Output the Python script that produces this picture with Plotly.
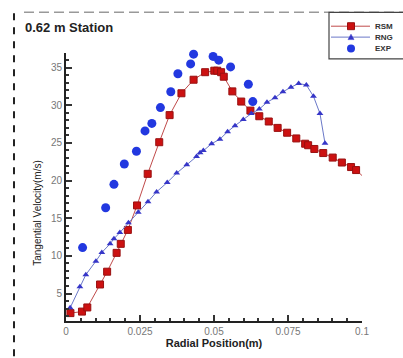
import plotly.graph_objects as go

# ---------------- data ----------------
rsm_x = [0.0015, 0.0054, 0.0072, 0.0115, 0.0139, 0.0171, 0.0185, 0.0209, 0.0240,
         0.0276, 0.0315, 0.0350, 0.0390, 0.0431, 0.0470, 0.0501, 0.0511, 0.0524,
         0.0533, 0.0562, 0.0592, 0.0623, 0.0653, 0.0685, 0.0715, 0.0747, 0.0778,
         0.0808, 0.0818, 0.0839, 0.0869, 0.0901, 0.0932, 0.0963, 0.0980, 0.1002]
rsm_y = [2.4, 2.6, 3.15, 6.2, 7.9, 10.4, 11.6, 13.45, 16.7,
         20.9, 25.1, 28.7, 31.6, 33.4, 34.4, 34.6, 34.6, 34.4,
         33.8, 31.85, 30.5, 29.3, 28.55, 27.85, 27.0, 26.36, 25.6,
         24.9, 24.7, 24.2, 23.66, 23.06, 22.4, 21.8, 21.4, 20.6]

rng_x = [0.0014, 0.0047, 0.0067, 0.0101, 0.0121, 0.0149, 0.0162, 0.0182, 0.0211,
         0.0244, 0.0277, 0.0306, 0.0342, 0.0374, 0.0408, 0.0441, 0.0453, 0.0464,
         0.0492, 0.0520, 0.0546, 0.0571, 0.0599, 0.0626, 0.0653, 0.0679, 0.0706,
         0.0733, 0.0760, 0.0786, 0.0812, 0.0836, 0.0858, 0.0875]
rng_y = [3.1, 5.9, 7.5, 9.3, 10.45, 11.6, 12.27, 13.1, 14.4,
         15.8, 17.2, 18.5, 19.75, 21.0, 22.1, 23.2, 23.7, 24.0,
         24.9, 25.5, 26.5, 27.3, 28.1, 28.9, 29.5, 30.4, 31.0,
         31.8, 32.4, 32.9, 32.7, 31.2, 28.9, 24.95]

exp_x = [0.0056, 0.0134, 0.0162, 0.0197, 0.0238, 0.0267, 0.0290, 0.0319, 0.0354,
         0.0378, 0.0421, 0.0431, 0.0467, 0.0497, 0.0516, 0.0556, 0.0616, 0.0631]
exp_y = [11.1, 16.4, 19.5, 22.2, 23.9, 26.6, 27.6, 29.7, 31.8,
         34.2, 35.5, 36.8, 37.0, 36.5, 36.0, 35.1, 32.8, 30.5]

series_names = ["RSM", "RNG", "EXP"]
x_ticks = [0, 0.025, 0.05, 0.075, 0.1]
x_tick_text = ["0", "0.025", "0.05", "0.075", "0.1"]
y_ticks = [5, 10, 15, 20, 25, 30, 35]

title_text = "0.62 m Station"
x_title = "Radial Position(m)"
y_title = "Tangential Velocity(m/s)"

# ---------------- styles ----------------
W, H = 403, 358
L, R, T, B = 66, 41, 53, 35
PW, PH = W - L - R, H - T - B

RED = "#cc1111"
RED_LINE = "#c04a4a"
TRI = "#3636c8"
TRI_LINE = "#6a78c8"
CIRC = "#2238e0"


def px(xp):
    return (xp - L) / PW


def py(yp):
    return (H - B - yp) / PH


fig = go.Figure()
fig.add_trace(go.Scatter(x=rsm_x, y=rsm_y, name=series_names[0], mode="lines+markers",
                         line=dict(color=RED_LINE, width=1),
                         marker=dict(symbol="square", size=7, color=RED,
                                     line=dict(color="#991111", width=1)),
                         cliponaxis=False))
fig.add_trace(go.Scatter(x=rng_x, y=rng_y, name=series_names[1], mode="lines+markers",
                         line=dict(color=TRI_LINE, width=1),
                         marker=dict(symbol="triangle-up", size=6, color=TRI),
                         cliponaxis=False))
fig.add_trace(go.Scatter(x=exp_x, y=exp_y, name=series_names[2], mode="markers",
                         marker=dict(symbol="circle", size=9, color=CIRC),
                         cliponaxis=False))

axis_common = dict(showgrid=False, zeroline=False, showline=True, linecolor="#222",
                   linewidth=2, ticks="inside", tickcolor="#333", ticklen=6, tickwidth=1.5,
                   tickfont=dict(family="Liberation Sans, Arial", size=10, color="#777"),
                   mirror=False)

fig.update_xaxes(range=[0, 0.1], tickvals=x_ticks, ticktext=x_tick_text,
                 minor=dict(dtick=0.005, ticks="inside", ticklen=3, tickcolor="#333"),
                 title=dict(text="<b>" + x_title + "</b>", standoff=1,
                            font=dict(family="Liberation Sans, Arial", size=11, color="#222")),
                 **axis_common)
fig.update_yaxes(range=[1.35, 36.95], tickvals=y_ticks,
                 minor=dict(dtick=1, ticks="inside", ticklen=3, tickcolor="#333"),
                 **axis_common)

shapes = []
# dashed frame
shapes.append(dict(type="line", xref="paper", yref="paper", x0=px(24), x1=px(410),
                   y0=py(12), y1=py(12), line=dict(color="#999", width=1.5, dash="10px,5px")))
shapes.append(dict(type="line", xref="paper", yref="paper", x0=px(14), x1=px(14),
                   y0=py(13), y1=py(360), line=dict(color="#222", width=2, dash="7px,7px")))
# legend box
shapes.append(dict(type="rect", xref="paper", yref="paper", x0=px(329), x1=px(412),
                   y0=py(12), y1=py(59), line=dict(color="#444", width=1.2), fillcolor="white"))

annotations = [
    dict(text="<b>" + title_text + "</b>", xref="paper", yref="paper", x=px(23), y=py(27),
         xanchor="left", yanchor="middle", showarrow=False,
         font=dict(family="Liberation Sans, Arial", size=13, color="#222")),
    dict(text=y_title, xref="paper", yref="paper", x=px(38), y=py(214), textangle=-90,
         xanchor="center", yanchor="middle", showarrow=False,
         font=dict(family="Liberation Sans, Arial", size=10, color="#222")),
]

legend_rows = [26, 37, 48.5]
legend_styles = [("square", RED, RED_LINE, True), ("triangle", TRI, TRI_LINE, True),
                 ("circle", CIRC, None, False)]
for name, yr, (sym, mc, lc, has_line) in zip(series_names, legend_rows, legend_styles):
    if has_line:
        shapes.append(dict(type="line", xref="paper", yref="paper", x0=px(331), x1=px(370),
                           y0=py(yr), y1=py(yr), line=dict(color=lc, width=1)))
    cx = 351
    if sym == "square":
        shapes.append(dict(type="rect", xref="paper", yref="paper", x0=px(cx - 3.5), x1=px(cx + 3.5),
                           y0=py(yr + 3.5), y1=py(yr - 3.5), fillcolor=mc,
                           line=dict(color="#991111", width=1)))
    elif sym == "triangle":
        path = "M {} {} L {} {} L {} {} Z".format(px(cx - 3), py(yr + 2.5), px(cx + 3), py(yr + 2.5),
                                                   px(cx), py(yr - 3))
        shapes.append(dict(type="path", xref="paper", yref="paper", path=path, fillcolor=mc,
                           line=dict(color=mc, width=0.5)))
    else:
        shapes.append(dict(type="circle", xref="paper", yref="paper", x0=px(cx - 4), x1=px(cx + 4),
                           y0=py(yr + 4), y1=py(yr - 4), fillcolor=mc, line=dict(color=mc, width=0)))
    annotations.append(dict(text="<b>" + name + "</b>", xref="paper", yref="paper", x=px(373),
                            y=py(yr), xanchor="left", yanchor="middle", showarrow=False,
                            font=dict(family="Liberation Sans, Arial", size=8, color="#333")))

fig.update_layout(width=W, height=H, margin=dict(l=L, r=R, t=T, b=B, pad=0),
                  paper_bgcolor="white", plot_bgcolor="white", showlegend=False,
                  shapes=shapes, annotations=annotations)

fig.write_html("out.html")
